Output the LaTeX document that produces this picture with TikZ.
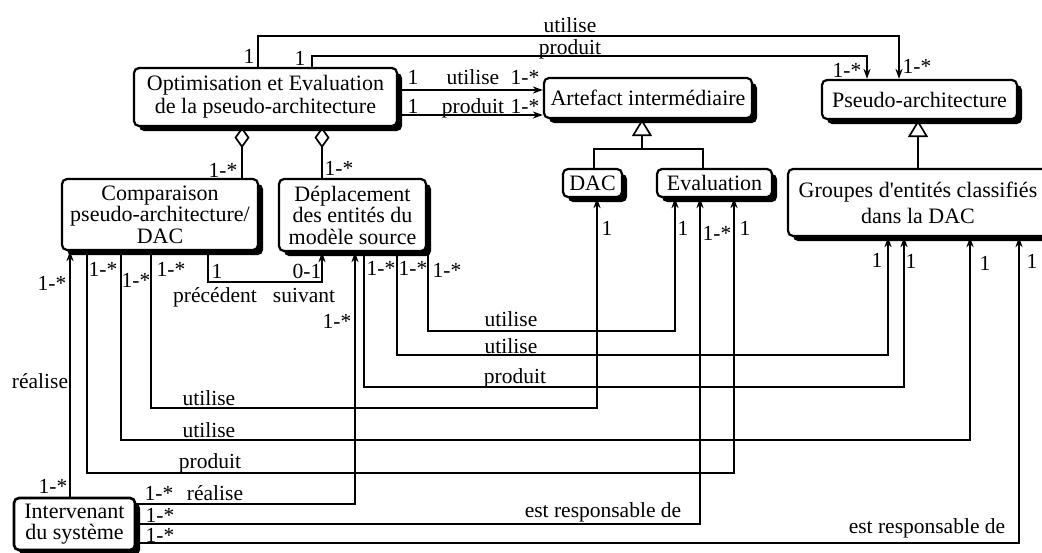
\documentclass[tikz,border=0pt]{standalone}
\usepackage{fontspec}
\setmainfont{Liberation Serif}
\usetikzlibrary{arrows.meta,shadows}
\begin{document}
\begin{tikzpicture}[x=1pt,y=-1pt,
  box/.style={draw, line width=2.2pt, rounded corners=5pt, fill=white, align=center, inner sep=0pt,
    font=\fontsize{22}{23}\selectfont,
    drop shadow={shadow xshift=5pt,shadow yshift=-5pt,fill=black,opacity=1}},
  lbl/.style={inner sep=0pt, anchor=base, font=\fontsize{21.5}{22}\selectfont},
  conn/.style={line width=1.7pt},
  arr/.style={conn, -{Stealth[length=10pt,width=7pt,inset=3pt]}},
  agg/.style={conn, {Diamond[open,length=21pt,width=15pt]}-},
  gen/.style={conn, -{Triangle[open,length=17pt,width=20pt]}}]
\useasboundingbox (0,0) rectangle (1042,552);

% classes
\node[box, minimum width=263pt, minimum height=58pt] (opt) at (265.5,97) {Optimisation et Evaluation\\de la pseudo-architecture};
\node[box, minimum width=208pt, minimum height=40pt] (art) at (648,98) {Artefact intermédiaire};
\node[box, minimum width=195pt, minimum height=39pt] (pseudo) at (919.5,99.5) {Pseudo-architecture};
\node[box, minimum width=59pt, minimum height=28pt] (dac) at (592.5,183) {DAC};
\node[box, minimum width=115pt, minimum height=28pt] (eval) at (714.5,183) {Evaluation};
\node[box, minimum width=260pt, minimum height=67pt, font=\fontsize{22}{26}\selectfont] (grp) at (918,202.5) {Groupes d\textquotesingle entités classifiés\\dans la DAC};
\node[box, minimum width=196pt, minimum height=71pt, font=\fontsize{22}{21.5}\selectfont] (comp) at (160,214.5) {Comparaison\\pseudo-architecture/\\DAC};
\node[box, minimum width=147pt, minimum height=72pt, font=\fontsize{22}{21.5}\selectfont] (dep) at (352.5,215) {Déplacement\\des entités du\\modèle source};
\node[box, minimum width=121pt, minimum height=52pt, line width=2.6pt, font=\fontsize{22}{21}\selectfont,
  drop shadow={shadow xshift=2pt,shadow yshift=-2pt,fill=black,opacity=1}] (int) at (74.5,524) {Intervenant\\du système};

% top associations
\draw[arr] (opt.north -| 258,0) -- (258,36) -| (pseudo.north -| 899,0);
\draw[arr] (opt.north -| 312,0) -- (312,56) -| (pseudo.north -| 867,0);
\draw[arr] (opt.east |- 0,90) -- (art.west |- 0,90);
\draw[arr] (opt.east |- 0,115) -- (art.west |- 0,115);

% aggregations
\draw[agg] (opt.south -| 242,0) -- (comp.north -| 242,0);
\draw[agg] (opt.south -| 322,0) -- (dep.north -| 322,0);

% generalizations
\coordinate (gj) at (642,149);
\draw[conn] (dac.north -| 594,0) -- (594,149) -- (703,149) -- (eval.north -| 703,0);
\draw[gen] (gj) -- (art.south -| gj);
\draw[gen] (grp.north -| 918,0) -- (pseudo.south -| 918,0);

% from Comparaison
\draw[arr] (int.north -| 70,0) -- (comp.south -| 70,0);
\draw[arr] (comp.south -| 87,0) -- (87,473) -| (eval.south -| 734,0);
\draw[arr] (comp.south -| 121,0) -- (121,440) -| (grp.south -| 970,0);
\draw[arr] (comp.south -| 151,0) -- (151,408) -| (dac.south -| 597,0);
\draw[arr] (comp.south -| 208,0) -- (208,282) -| (dep.south -| 322,0);

% from Deplacement
\draw[arr] (dep.south -| 364,0) -- (364,387) -| (grp.south -| 904,0);
\draw[arr] (dep.south -| 397,0) -- (397,355) -| (grp.south -| 888,0);
\draw[arr] (dep.south -| 428,0) -- (428,331) -| (eval.south -| 675,0);

% from Intervenant
\draw[arr] (int.east |- 0,504) -| (dep.south -| 355,0);
\draw[arr] (int.east |- 0,524) -| (eval.south -| 700,0);
\draw[arr] (int.east |- 0,543) -| (grp.south -| 1019,0);

% labels
\node[lbl] (l1) at (570,32) {utilise};
\node[lbl] (l2) at (570,54) {produit};
\node[lbl] (l3) at (249,63) {1};
\node[lbl] (l4) at (300,65) {1};
\node[lbl] (l5) at (847,77) {1-*};
\node[lbl] (l6) at (917,73) {1-*};
\node[lbl] (l7) at (413,84) {1};
\node[lbl] (l8) at (473,84) {utilise};
\node[lbl] (l9) at (525,84) {1-*};
\node[lbl] (l10) at (413,113) {1};
\node[lbl] (l11) at (473,113) {produit};
\node[lbl] (l12) at (525,113) {1-*};
\node[lbl] (l13) at (223,177) {1-*};
\node[lbl] (l14) at (339,175) {1-*};
\node[lbl] (l15) at (103,276) {1-*};
\node[lbl] (l16) at (136,287) {1-*};
\node[lbl] (l17) at (171,276) {1-*};
\node[lbl] (l18) at (52,290) {1-*};
\node[lbl] (l19) at (217,278) {1};
\node[lbl] (l20) at (307,278) {0-1};
\node[lbl] (l21) at (215,302) {précédent};
\node[lbl] (l22) at (304,302) {suivant};
\node[lbl] (l23) at (337,328) {1-*};
\node[lbl] (l24) at (381,275) {1-*};
\node[lbl] (l25) at (413,275) {1-*};
\node[lbl] (l26) at (447,277) {1-*};
\node[lbl] (l27) at (607,235) {1};
\node[lbl] (l28) at (683,235) {1};
\node[lbl] (l29) at (717,240) {1-*};
\node[lbl] (l30) at (745,235) {1};
\node[lbl] (l31) at (877,267) {1};
\node[lbl] (l32) at (911,268) {1};
\node[lbl] (l33) at (985,270) {1};
\node[lbl] (l34) at (1032,268) {1};
\node[lbl] (l35) at (511,326) {utilise};
\node[lbl] (l36) at (511,353) {utilise};
\node[lbl] (l37) at (515,383) {produit};
\node[lbl] (l38) at (209,405) {utilise};
\node[lbl] (l39) at (209,437) {utilise};
\node[lbl] (l40) at (210,468) {produit};
\node[lbl] (l41) at (40,388) {réalise};
\node[lbl] (l42) at (53,493) {1-*};
\node[lbl] (l43) at (159,500) {1-*};
\node[lbl] (l44) at (215,500) {réalise};
\node[lbl] (l45) at (160,522) {1-*};
\node[lbl] (l46) at (160,542) {1-*};
\node[lbl] (l47) at (603,517) {est responsable de};
\node[lbl] (l48) at (927,533) {est responsable de};
\end{tikzpicture}
\end{document}
